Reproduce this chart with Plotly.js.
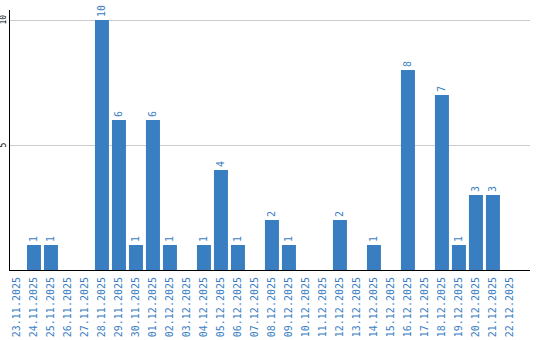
<!DOCTYPE html>
<html>
<head>
<meta charset="utf-8">
<script src="https://cdn.plot.ly/plotly-3.0.1.min.js"></script>
<style>html,body{margin:0;padding:0;background:#fff;}#chart{width:540px;height:340px;}</style>
</head>
<body>
<div id="chart"></div>
<script>
const dates = ["23.11.2025","24.11.2025","25.11.2025","26.11.2025","27.11.2025","28.11.2025","29.11.2025","30.11.2025","01.12.2025","02.12.2025","03.12.2025","04.12.2025","05.12.2025","06.12.2025","07.12.2025","08.12.2025","09.12.2025","10.12.2025","11.12.2025","12.12.2025","13.12.2025","14.12.2025","15.12.2025","16.12.2025","17.12.2025","18.12.2025","19.12.2025","20.12.2025","21.12.2025","22.12.2025"];
const counts = [0,1,1,0,0,10,6,1,6,1,0,1,4,1,0,2,1,0,0,2,0,1,0,8,0,7,1,3,3,0];
const yTicks = [5, 10];
const labels = counts.map(v => v > 0 ? String(v) : "");

const blue = "#3a7ec2";
const trace = {
  type: "bar",
  x: dates,
  y: counts,
  marker: {color: blue},
  text: labels,
  textposition: "outside",
  textangle: -90,
  cliponaxis: false,
  textfont: {family: "DejaVu Sans Mono", size: 10, color: blue},
  hoverinfo: "none"
};
const layout = {
  width: 540, height: 340,
  margin: {l: 10, r: 10, t: 10, b: 70},
  paper_bgcolor: "#fff", plot_bgcolor: "#fff",
  bargap: 0.176,
  showlegend: false,
  xaxis: {
    type: "category",
    range: [-0.41, 30.18],
    showline: true, linecolor: "#000", linewidth: 1,
    showgrid: false, ticks: "",
    tickangle: -90,
    tickfont: {family: "DejaVu Sans Mono", size: 10, color: blue},
    ticklabelstandoff: 2
  },
  yaxis: {
    range: [0, 10.4],
    tickvals: yTicks,
    showticklabels: false,
    showline: true, linecolor: "#000", linewidth: 1,
    showgrid: true, gridcolor: "#cccccc", gridwidth: 1,
    zeroline: false, ticks: ""
  },
  annotations: yTicks.map(v => ({
    xref: "paper", yref: "y", x: 0, y: v,
    xanchor: "right", yanchor: "middle", xshift: -1,
    text: String(v), showarrow: false, textangle: -90,
    font: {family: "DejaVu Sans Mono", size: 8, color: "#000"}
  }))
};
Plotly.newPlot("chart", [trace], layout, {displayModeBar: false, staticPlot: true});
</script>
</body>
</html>
